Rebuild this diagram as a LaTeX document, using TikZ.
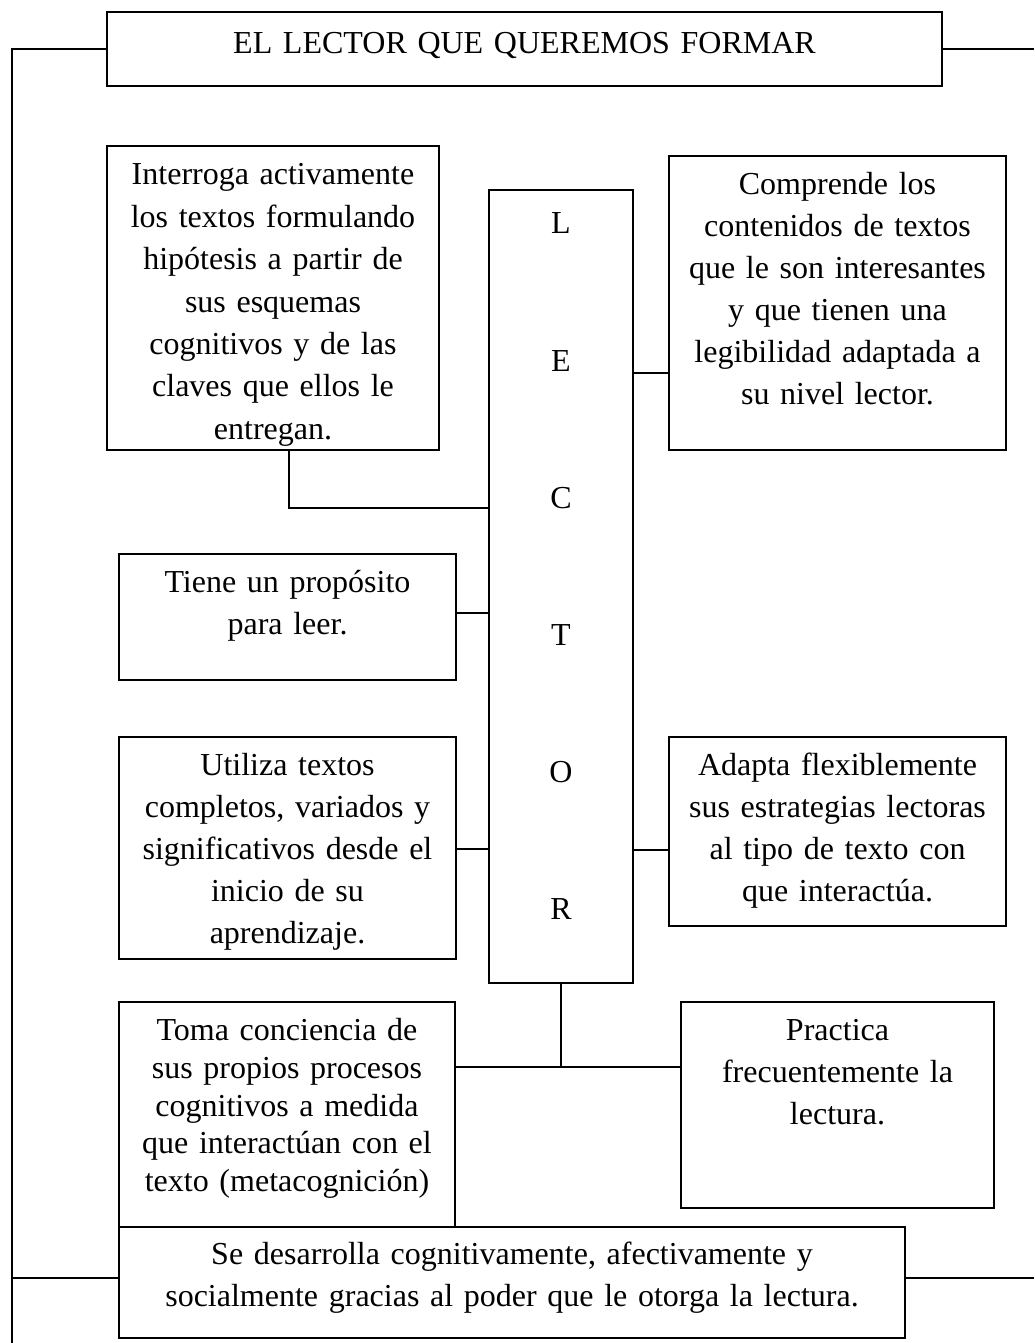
\documentclass[tikz,border=0pt]{standalone}
\usepackage{fontspec}
\setmainfont{Liberation Serif}
\usetikzlibrary{positioning}

\begin{document}
\begin{tikzpicture}
	[x=0.375pt,y=-0.375pt,line width=0.75pt,
	 every node/.style={font=\fontsize{12}{15.75}\selectfont},
	 caja/.style n args={3}{draw, inner sep=0pt, align=center, text width=#1, text height=#3, text depth=#2-#3}]
	\useasboundingbox (0,0) rectangle (1034,1343);
	\node[caja={313.1pt}{27.75pt}{15.75pt}] (tit) at (524.5,49) {EL LECTOR QUE QUEREMOS FORMAR};
	\node[caja={54pt}{297.4pt}{16.5pt}, font=\fontsize{12}{51.4}\selectfont] (lec) at (561,586.5) {L\\E\\C\\T\\O\\R};
	\node[caja={124.5pt}{114pt}{14.6pt}, font=\fontsize{12}{15.9}\selectfont] (n1) at (273,298) {Interroga activamente\\los textos formulando\\hipótesis a partir de\\sus esquemas\\cognitivos y de las\\claves que ellos le\\entregan.};
	\node[caja={126.4pt}{110.25pt}{14.6pt}] (n2) at (837.5,303) {Comprende los\\contenidos de textos\\que le son interesantes\\y que tienen una\\legibilidad adaptada a\\su nivel lector.};
	\node[caja={126.4pt}{47.25pt}{14.6pt}] (n3) at (287.5,617) {Tiene un propósito\\para leer.};
	\node[caja={126.4pt}{83.25pt}{14.6pt}] (n4) at (287.5,848) {Utiliza textos\\completos, variados y\\significativos desde el\\inicio de su\\aprendizaje.};
	\node[caja={126.4pt}{70.9pt}{14.6pt}] (n5) at (837.5,831.5) {Adapta flexiblemente\\sus estrategias lectoras\\al tipo de texto con\\que interactúa.};
	\node[caja={126pt}{84.4pt}{14.6pt}, font=\fontsize{12}{14.1}\selectfont] (n6) at (287,1114.5) {Toma conciencia de\\sus propios procesos\\cognitivos a medida\\que interactúan con el\\texto (metacognición)};
	\node[caja={117.4pt}{77.25pt}{14.6pt}] (n7) at (837.5,1105) {Practica\\frecuentemente la\\lectura.};
	\node[caja={294.75pt}{41.6pt}{14pt}] (n8) at (512,1282.5) {Se desarrolla cognitivamente, afectivamente y\\socialmente gracias al poder que le otorga la lectura.};
	
	\coordinate (esq) at (12,1343);
	\coordinate (bi) at (12,1278);
	\coordinate (bd) at (1034,1278);
	\draw (tit.west) -| (esq);
	\draw (tit.east) -- (tit.east -| bd);
	\draw (bi) -- (n8.west |- bi);
	\draw (n8.east |- bd) -- (bd);
	
	\draw (n1.south -| 289,0) |- (lec.west |- 0,508);
	\draw (lec.east |- 0,373) -- (n2.west |- 0,373);
	\draw (n3.east |- 0,613) -- (lec.west |- 0,613);
	\draw (n4.east |- 0,849) -- (lec.west |- 0,849);
	\draw (lec.east |- 0,850) -- (n5.west |- 0,850);
	\draw (lec.south) -- (lec.south |- 0,1067);
	\draw (n6.east |- 0,1067) -- (n7.west |- 0,1067);
\end{tikzpicture}
\end{document}
